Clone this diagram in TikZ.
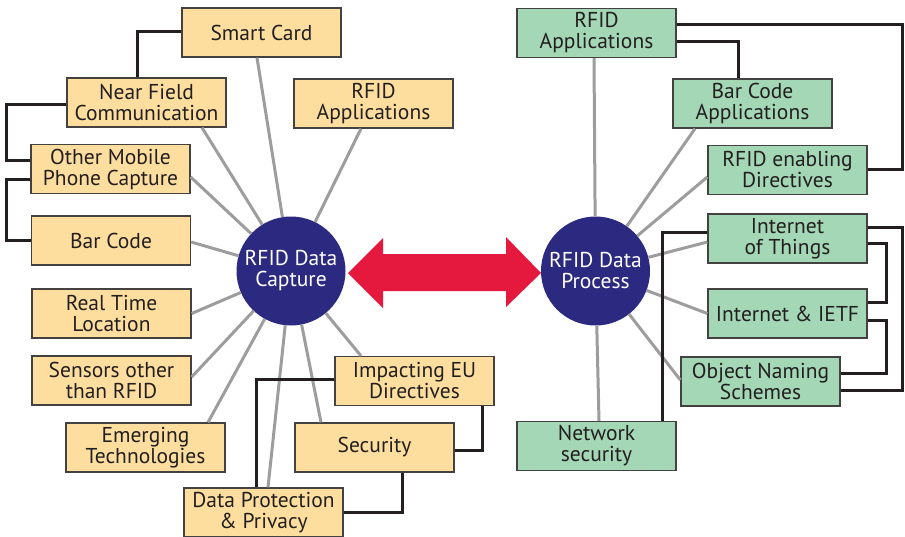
\documentclass[tikz,border=0pt]{standalone}
\usepackage{fontspec}
\setmainfont{PT Sans}
\usetikzlibrary{calc}
\definecolor{boxorange}{HTML}{FDDE9F}
\definecolor{boxgreen}{HTML}{A3D7B5}
\definecolor{navy}{HTML}{2B2A80}
\definecolor{arrowred}{HTML}{E5193D}
\definecolor{linegray}{HTML}{9D9D9D}
\definecolor{linedark}{HTML}{231F20}
\tikzset{
  base/.style={draw=linedark!85, line width=1.3pt, minimum width=159pt, minimum height=49pt,
    align=center, inner sep=0pt, font=\fontsize{21.5}{21}\selectfont, text=linedark},
  obox/.style={base, fill=boxorange},
  gbox/.style={base, fill=boxgreen},
  hub/.style={circle, fill=navy, minimum size=109pt, inner sep=0pt, align=center,
    text=white, font=\fontsize{21.5}{21}\selectfont},
  spoke/.style={draw=linegray, line width=3pt},
  link/.style={draw=linedark, line width=3pt},
}
\begin{document}
\begin{tikzpicture}[x=1pt,y=-1pt]
\useasboundingbox (0,0) rectangle (905,536);
% hubs
\node[hub] (cap) at (291,271) {RFID Data\\Capture};
\node[hub] (proc) at (595.5,271) {RFID Data\\Process};
% left boxes
\node[obox] (sc) at (261.5,32.5) {Smart Card};
\node[obox] (nfc) at (146.5,102.5) {Near Field\\Communication};
\node[obox] (rapL) at (373.5,103.5) {RFID\\Applications};
\node[obox] (om) at (110.5,169) {Other Mobile\\Phone Capture};
\node[obox] (bc) at (111,240.5) {Bar Code};
\node[obox] (rtl) at (111.5,313.5) {Real Time\\Location};
\node[obox] (sen) at (111.5,380.5) {Sensors other\\than RFID};
\node[obox] (em) at (145.5,447.5) {Emerging\\Technologies};
\node[obox] (eu) at (414.5,381) {Impacting EU\\Directives};
\node[obox] (secL) at (374.5,447.5) {Security};
\node[obox] (dpp) at (263.5,512.5) {Data Protection\\\& Privacy};
% right boxes
\node[gbox] (rapR) at (596.5,33) {RFID\\Applications};
\node[gbox] (bca) at (752.5,103.5) {Bar Code\\Applications};
\node[gbox] (red) at (787.5,170) {RFID enabling\\Directives};
\node[gbox] (iot) at (787.5,238.5) {Internet\\of Things};
\node[gbox] (ietf) at (787.5,313.5) {Internet \& IETF};
\node[gbox] (ons) at (760.5,381.5) {Object Naming\\Schemes};
\node[gbox] (ns) at (596.5,446) {Network\\security};
% spokes left
\draw[spoke] ([xshift=-4.5pt]sc.south) -- (cap);
\draw[spoke] ([xshift=55.5pt]nfc.south) -- (cap);
\draw[spoke] ([xshift=-12.5pt]rapL.south) -- (cap);
\draw[spoke] ([yshift=-8pt]om.east) -- (cap);
\draw[spoke] ([yshift=-1.5pt]bc.east) -- (cap);
\draw[spoke] (rtl.east) -- (cap);
\draw[spoke] ([yshift=3.5pt]sen.east) -- (cap);
\draw[spoke] ([xshift=62.5pt]em.north) -- (cap);
\draw[spoke] ([xshift=4.5pt]dpp.north) -- (cap);
\draw[spoke] ([xshift=-53.5pt]secL.north) -- (cap);
\draw[spoke] ([xshift=-53.5pt]eu.north) -- (cap);
% spokes right
\draw[spoke] ([xshift=-2.5pt]rapR.south) -- (proc);
\draw[spoke] ([xshift=-57.5pt]bca.south) -- (proc);
\draw[spoke] ([yshift=-7pt]red.west) -- (proc);
\draw[spoke] ([yshift=-3.5pt]iot.west) -- (proc);
\draw[spoke] (ietf.west) -- (proc);
\draw[spoke] ([yshift=1.5pt]ons.west) -- (proc);
\draw[spoke] ([xshift=2.5pt]ns.north) -- (proc);
% links left
\draw[link] ([yshift=1.5pt]sc.west) -| ([xshift=-9.5pt]nfc.north);
\draw[link] ([yshift=-1.5pt]nfc.west) -- ++(-60pt,0pt) |- ([yshift=9pt]om.west);
\draw[link] ([yshift=-10pt]om.west) -- ++(-24pt,0pt) |- (bc.west);
\draw[link] ([yshift=2pt]eu.west) -| ([xshift=-7.5pt]dpp.north);
\draw[link] ([xshift=67.5pt]eu.south) |- ([yshift=-2.5pt]secL.east);
\draw[link] ([xshift=27.5pt]secL.south) |- (dpp.east);
% links right
\draw[link] ([yshift=9pt]rapR.east) -- ++(226pt,0pt) |- ([yshift=1pt]red.east);
\draw[link] ([yshift=-8pt]rapR.east) -| ([xshift=-14.5pt]bca.north);
\draw[link] ([yshift=11.5pt]iot.east) -- ++(35pt,0pt) |- ([yshift=-8.5pt]ons.east);
\draw[link] ([yshift=-4.5pt]iot.east) -- ++(19pt,0pt) |- ([yshift=11.5pt]ietf.east);
\draw[link] ([yshift=-6.5pt]ietf.east) -- ++(19pt,0pt) |- ([yshift=8.5pt]ons.east);
\draw[link] ([yshift=6.5pt]iot.west) -| ([xshift=65.5pt]ns.north);
% double arrow
\fill[arrowred] (348,273) -- (383,238) -- (383,254) -- (506,254) -- (506,237)
  -- (541,273) -- (506,307) -- (506,291) -- (383,291) -- (383,308) -- cycle;
\end{tikzpicture}
\end{document}
